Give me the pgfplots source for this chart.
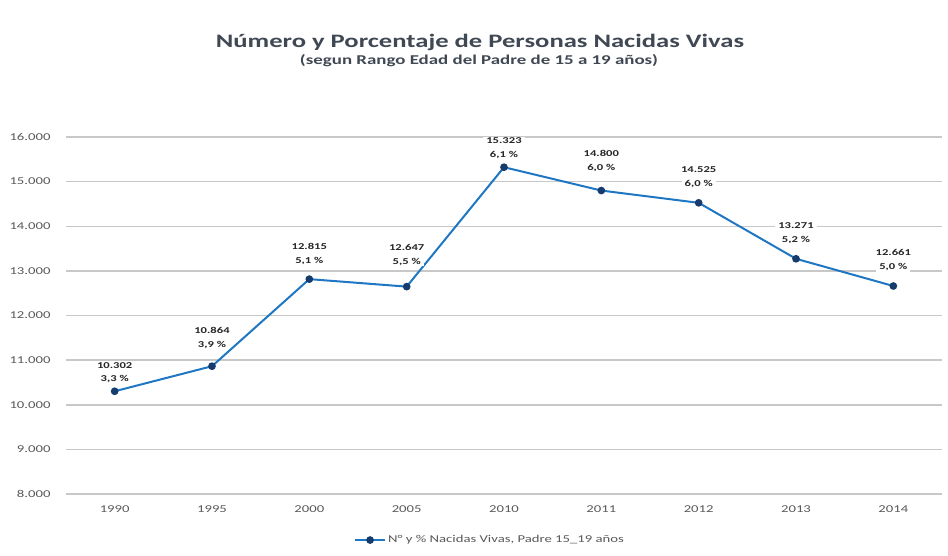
\documentclass[border=0pt]{standalone}
\usepackage{pgfplots}
\pgfplotsset{compat=1.18}
\usepackage{pgfplotstable}
\usepackage{fontspec}
\setmainfont{Carlito}[FakeStretch=1.4]
\definecolor{linecol}{RGB}{31,119,196}
\definecolor{markcol}{RGB}{22,60,110}
\definecolor{titlecol}{RGB}{64,72,84}
\definecolor{tickcol}{RGB}{89,89,89}
\definecolor{gridcol}{RGB}{200,200,200}
\definecolor{labcol}{RGB}{38,38,38}

\pgfplotstableread{
x y lab pct off
0 10302 10.302 3,3 7
1 10864 10.864 3,9 16
2 12815 12.815 5,1 13
3 12647 12.647 5,5 20
4 15323 15.323 6,1 7
5 14800 14.800 6,0 18
6 14525 14.525 6,0 14
7 13271 13.271 5,2 14
8 12661 12.661 5,0 14
}\datatable

\tikzset{lbl/.style={align=center, fill=white, inner xsep=3pt, inner ysep=1pt,
    font=\fontsize{9}{11}\selectfont\bfseries, text=labcol, anchor=south}}

\begin{document}
\begin{tikzpicture}[x=1pt,y=1pt]
\useasboundingbox (0,0) rectangle (948,555);
\node[font=\fontsize{19}{21}\selectfont\bfseries, text=titlecol] at (480,513) {Número y Porcentaje de Personas Nacidas Vivas};
\node[font=\fontsize{13.5}{15}\selectfont\bfseries, text=titlecol] at (479,494) {(segun Rango Edad del Padre de 15 a 19 años)};
\begin{axis}[
  at={(66pt,61pt)}, anchor=south west,
  scale only axis, width=876pt, height=357pt,
  xmin=-0.5, xmax=8.5, ymin=8000, ymax=16000,
  xtick={0,...,8},
  xticklabels={1990,1995,2000,2005,2010,2011,2012,2013,2014},
  ytick={8000,9000,...,16000},
  scaled y ticks=false,
  /pgf/number format/assume math mode=true,
  /pgf/number format/1000 sep={.},
  yticklabel={\pgfmathprintnumber[fixed,precision=0,1000 sep={.}]{\tick}},
  ymajorgrids,
  major grid style={draw=gridcol, line width=1.5pt},
  axis line style={draw=none},
  tick style={draw=none},
  ticklabel style={font=\fontsize{10.5}{12}\selectfont, text=tickcol},
  xticklabel style={yshift=-8pt},
  yticklabel style={xshift=-12pt},
  legend style={at={(0.484,-0.129)}, anchor=center, draw=none, fill=none,
    font=\fontsize{10.5}{12}\selectfont, text=tickcol},
  legend image code/.code={\draw[mark repeat=2,mark phase=2,#1] plot coordinates {(0pt,0pt) (15pt,0pt) (30pt,0pt)};},
]
\addplot[draw=none, mark=none, forget plot,
  point meta=explicit symbolic,
  visualization depends on={\thisrow{off}\as\off},
  nodes near coords={\pgfplotspointmeta},
  every node near coord/.append style={lbl, yshift=\off pt + 15pt},
] table[x=x, y=y, meta=lab] {\datatable};
\addplot[draw=none, mark=none, forget plot,
  point meta=explicit symbolic,
  visualization depends on={\thisrow{off}\as\off},
  nodes near coords={\pgfplotspointmeta\ \%},
  every node near coord/.append style={lbl, yshift=\off pt},
] table[x=x, y=y, meta=pct] {\datatable};
\addplot[color=linecol, line width=2pt, mark=*, mark size=2.8pt,
  mark options={fill=markcol, draw=markcol}]
  table[x=x, y=y] {\datatable};
\addlegendentry{N° y \% Nacidas Vivas, Padre 15\_19 años}
\end{axis}
\end{tikzpicture}
\end{document}
